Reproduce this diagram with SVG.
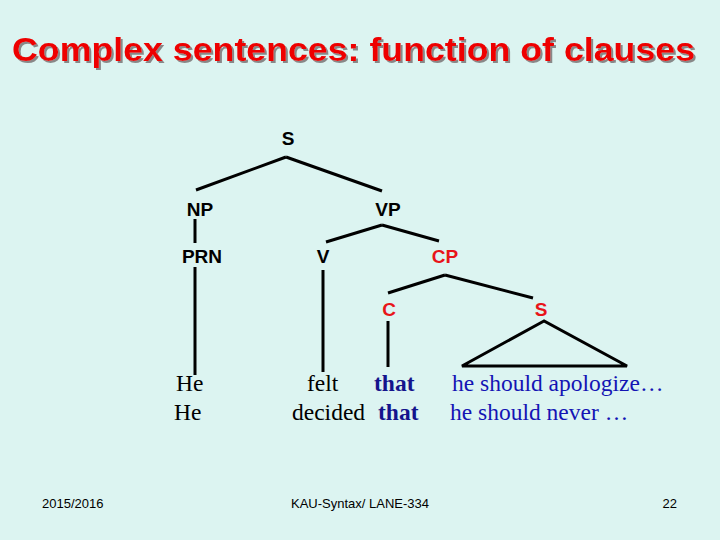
<svg xmlns="http://www.w3.org/2000/svg" width="720" height="540" viewBox="0 0 720 540">
<defs>
<filter id="sh" x="-5%" y="-20%" width="110%" height="150%"><feDropShadow dx="2" dy="2" stdDeviation="0.3" flood-color="#888"/></filter>
</defs>
<style>
.lbl{font-family:"Liberation Sans",Arial,sans-serif;font-weight:bold;font-size:19px;text-anchor:middle;fill:#000}
.red{fill:#e8141a}
.w{font-family:"Liberation Serif","Times New Roman",serif;font-size:23.5px;fill:#000}
.b{fill:#1414b4}
.tb{font-weight:bold;fill:#14148c}
.f{font-family:"Liberation Sans",Arial,sans-serif;font-size:13px;fill:#000}
.e line,.e polygon{stroke:#000;stroke-width:3;fill:none}
</style>
<rect width="720" height="540" fill="#dcf4f1"/>
<g id="title">
<text x="12" y="61" fill="#ee0000" font-family="Liberation Sans,Arial,sans-serif" font-weight="bold" font-size="34" textLength="683" lengthAdjust="spacingAndGlyphs" filter="url(#sh)">Complex sentences: function of clauses</text>
</g>
<g id="connectors" class="e">
<line x1="286" y1="157" x2="196" y2="190"/>
<line x1="286" y1="157" x2="382" y2="191"/>
<line x1="195" y1="219" x2="195" y2="243"/>
<line x1="195" y1="267" x2="195" y2="375"/>
<line x1="382" y1="225" x2="326" y2="242"/>
<line x1="382" y1="225" x2="439" y2="241"/>
<line x1="323" y1="270" x2="323" y2="372"/>
<line x1="445" y1="275" x2="388" y2="293"/>
<line x1="445" y1="275" x2="533" y2="298"/>
<line x1="388" y1="321" x2="388" y2="367"/>
<polygon points="544,321 462,366 627,366"/>
</g>
<g id="n-S"><text class="lbl" x="288" y="145">S</text></g>
<g id="n-NP"><text class="lbl" x="200" y="216">NP</text></g>
<g id="n-VP"><text class="lbl" x="388" y="216">VP</text></g>
<g id="n-PRN"><text class="lbl" x="202" y="263">PRN</text></g>
<g id="n-V"><text class="lbl" x="323" y="263">V</text></g>
<g id="n-CP"><text class="lbl red" x="445" y="263">CP</text></g>
<g id="n-C"><text class="lbl red" x="389" y="316">C</text></g>
<g id="n-S2"><text class="lbl red" x="541" y="316">S</text></g>
<g id="words">
<text class="w" x="176" y="391">He</text>
<text class="w" x="174" y="420">He</text>
<text class="w" x="307" y="391">felt</text>
<text class="w" x="292" y="420">decided</text>
<text class="w tb" x="374" y="391">that</text>
<text class="w tb" x="378" y="420">that</text>
<text class="w b" x="452" y="391">he should apologize…</text>
<text class="w b" x="450" y="420">he should never …</text>
</g>
<g id="footer">
<text class="f" x="42" y="508">2015/2016</text>
<text class="f" x="360" y="508" text-anchor="middle">KAU-Syntax/ LANE-334</text>
<text class="f" x="677" y="508" text-anchor="end">22</text>
</g>
</svg>
